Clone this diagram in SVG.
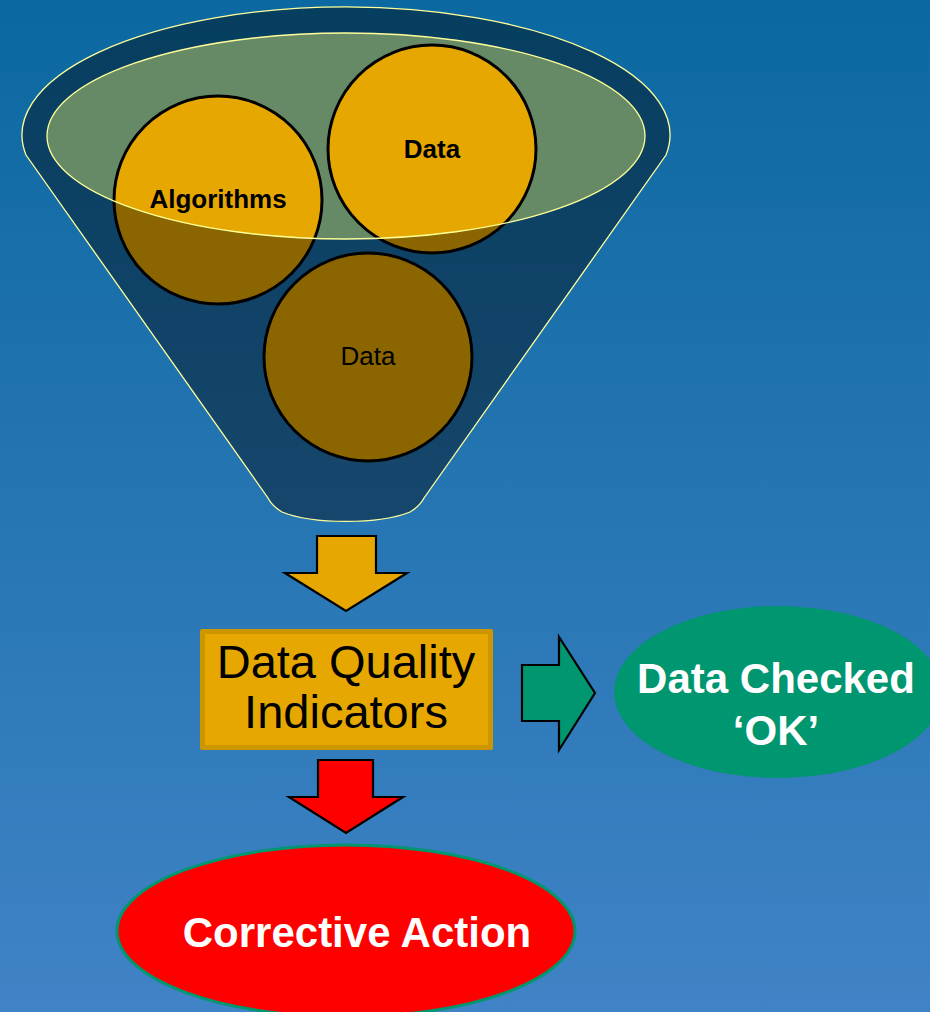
<svg xmlns="http://www.w3.org/2000/svg" width="930" height="1012" viewBox="0 0 930 1012">
  <defs>
    <linearGradient id="bg" x1="0" y1="0" x2="0" y2="1">
      <stop offset="0" stop-color="#0b68a0"/>
      <stop offset="1" stop-color="#4083c6"/>
    </linearGradient>
  </defs>
  <style>
    .ball { fill: #e6a800; stroke: #000; stroke-width: 3; }
    .rim { fill: none; stroke: #ffff99; stroke-width: 1.3; }
    .arrow { stroke: #000; stroke-width: 2.2; stroke-linejoin: miter; }
    .lbl { font-family: "Liberation Sans", Arial, sans-serif; text-anchor: middle; }
    .bold { font-weight: bold; }
  </style>

  <rect width="930" height="1012" fill="url(#bg)"/>

  <!-- funnel with its contents -->
  <g id="funnel">
    <ellipse cx="346" cy="136" rx="299" ry="103" fill="#678a66"/>
    <g id="algorithms">
      <circle class="ball" cx="218" cy="200" r="104"/>
      <text class="lbl bold" x="218" y="208" font-size="26">Algorithms</text>
    </g>
    <g id="data-top">
      <circle class="ball" cx="432" cy="149" r="104"/>
      <text class="lbl bold" x="432" y="158" font-size="26">Data</text>
    </g>
    <g id="data-bottom">
      <circle class="ball" cx="368" cy="357" r="104"/>
    </g>
    <!-- shaded funnel wall, open at the mouth -->
    <path fill="#000" fill-opacity="0.4" fill-rule="evenodd"
          d="M26,155 A324,128 0 1 1 666,155 L424,498 Q420,506 410,512 A78,22 0 0 1 282,512 Q272,506 268,498 Z
             M47,136 A299,103 0 1 0 645,136 A299,103 0 1 0 47,136 Z"/>
    <text class="lbl" x="368" y="365" font-size="26">Data</text>
    <path class="rim" d="M26,155 A324,128 0 1 1 666,155 L424,498 Q420,506 410,512 A78,22 0 0 1 282,512 Q272,506 268,498 Z"/>
    <ellipse class="rim" cx="346" cy="136" rx="299" ry="103"/>
  </g>

  <!-- arrows between stages -->
  <g id="connectors">
    <path class="arrow" fill="#e6a800" d="M317,536 L376,536 L376,573 L407,573 L346,611 L285,573 L317,573 Z"/>
    <path class="arrow" fill="#009670" d="M522,665 L559,665 L559,637 L595,693 L559,750 L559,721 L522,721 Z"/>
    <path class="arrow" fill="#ff0000" d="M318,760 L373,760 L373,797 L403,797 L346,833 L289,797 L318,797 Z"/>
  </g>

  <g id="indicators">
    <rect x="200" y="629" width="293" height="121" rx="2" fill="#cc9600"/>
    <rect x="205" y="634" width="283" height="111" fill="#e6a800"/>
    <text class="lbl" x="346" y="678" font-size="47">Data Quality</text>
    <text class="lbl" x="346" y="728" font-size="47">Indicators</text>
  </g>

  <g id="checked-ok">
    <ellipse cx="778" cy="692" rx="164" ry="86" fill="#009670"/>
    <text class="lbl bold" x="776" y="693" font-size="42" fill="#fff">Data Checked</text>
    <text class="lbl bold" x="776" y="745" font-size="42" fill="#fff">‘OK’</text>
  </g>

  <g id="corrective-action">
    <ellipse cx="346" cy="931" rx="229" ry="86" fill="#ff0000" stroke="#00966e" stroke-width="3"/>
    <text class="lbl bold" x="357" y="947" font-size="42" fill="#fff">Corrective Action</text>
  </g>
</svg>
